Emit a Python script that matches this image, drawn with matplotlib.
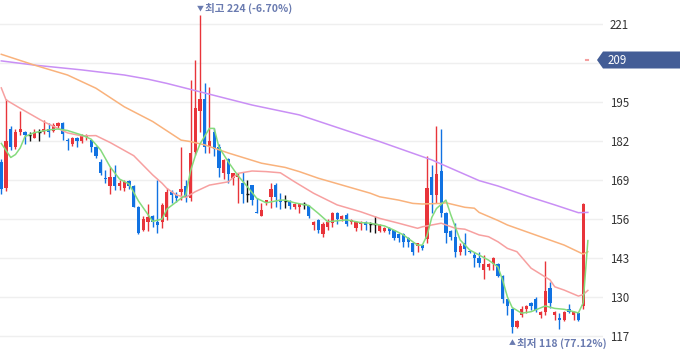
import matplotlib
matplotlib.use("Agg")
import matplotlib.pyplot as plt
from matplotlib.patches import Rectangle, Polygon

plt.rcParams['font.family'] = ['Noto Sans CJK KR', 'DejaVu Sans']

# daily candles, oldest first
opens = [
    175, 166.5, 186, 180, 185, 185, 184, 183, 185, 185,
    186, 185.5, 187, 188, 182.5, 181, 183, 182, 183.3, 182.3,
    180.1, 175.1, 169.6, 167, 170.1, 167, 166.2, 168.7, 167.1, 160.1,
    152.3, 155, 157, 155.1, 155.1, 156.8, 165, 164, 165.1, 167.1,
    163, 178.4, 192.1, 196, 180, 185, 180, 171.2, 176, 169.6,
    170.1, 168, 164.2, 167.3, 158.3, 157.1, 161.6, 163.2, 167.3, 162.3,
    162, 162, 159.9, 160.1, 160.9, 160.3, 154, 155.7, 151, 153.3,
    154.7, 158, 156, 157.5, 155.1, 152.9, 154.3, 155.1, 154.3, 154.3,
    152.1, 152.1, 152.9, 152.3, 151, 151, 149.6, 148.1, 147, 147.3,
    149.5, 170, 164, 172, 158, 152, 150, 145.1, 147.9, 145.3,
    144, 143.1, 139, 140.1, 141, 141, 137, 129.3, 125.9, 120.1,
    124, 125.9, 127.9, 129.2, 124, 125.1, 133.1, 124, 123.1, 122.3,
    125.9, 124, 124.6, 127,
]
highs = [
    176, 196, 187, 186, 192, 185.5, 185, 186, 186, 189,
    188, 188, 188.5, 188.5, 183, 183.5, 183.5, 184.5, 184.5, 182.5,
    180.5, 176, 172.3, 173.4, 174, 169, 169, 169, 167.5, 160.5,
    157, 161, 157.3, 169, 161.2, 166.2, 165.7, 165.1, 180.1, 169,
    202.3, 209, 224, 201.2, 200, 186.5, 181, 176, 176.5, 171.5,
    171.5, 171.8, 169, 167.5, 163, 161.2, 162.5, 168.1, 167.9, 164.6,
    164, 162.5, 161.2, 161.2, 161.8, 160.6, 155.5, 156, 155, 156,
    158.3, 158.3, 157.5, 158, 156, 155.5, 155.5, 155.3, 155.1, 157,
    154.3, 153.2, 153.2, 152.5, 151.3, 151.3, 150, 148.3, 148.1, 147.5,
    177, 174, 187, 186, 158.3, 152.5, 154.6, 147.9, 151.2, 145.7,
    145.1, 145.1, 144, 141.3, 143.2, 141.3, 137.3, 129.5, 126.3, 122.3,
    127, 127.3, 128.2, 130.1, 125.3, 142, 134.9, 125.3, 124.6, 125.2,
    127.7, 125.2, 124.7, 161.2,
]
lows = [
    164.5, 165.5, 179, 179.5, 184, 181, 182, 183, 182, 184.5,
    183.5, 185, 186.5, 182.5, 179, 180.5, 180, 181.5, 182.5, 178.4,
    176.3, 170.7, 167.9, 164.2, 165.7, 165.7, 165.5, 166, 160, 151,
    152, 152, 153.2, 151.2, 152.9, 155.7, 161.2, 161.8, 162.3, 161.8,
    162, 177.5, 185.1, 177.9, 178, 177, 170, 169.5, 168, 167.3,
    161.2, 161.2, 161.8, 160.7, 157.9, 157, 160.7, 159.6, 160.1, 159.2,
    159.6, 159.2, 159.2, 158.1, 159.2, 156.2, 152.3, 151.2, 150, 152.5,
    153.3, 154.3, 155.5, 153.7, 154.5, 152.1, 152.3, 152.3, 151.7, 151.2,
    151.8, 151.8, 151, 149, 148.4, 146.8, 146.8, 144, 145.1, 145.7,
    148, 158, 161.2, 156.8, 148.1, 149, 143.2, 144, 144, 144.7,
    140.1, 140.1, 135.9, 139, 139, 136.7, 127.9, 124, 118.1, 119.8,
    123.4, 124.8, 125.7, 125.1, 122.9, 124, 126.2, 122.3, 119.2, 122.1,
    124.6, 122.3, 122.1, 125.9,
]
closes = [
    166, 182, 180, 185, 186, 184, 184, 185, 185, 186,
    185, 187.5, 188, 184.5, 182, 183, 182, 184, 184, 180.1,
    177, 171.2, 169.2, 170.1, 167, 168.1, 168.2, 167.1, 160.1, 151.3,
    156.1, 156.7, 155.1, 154, 160.7, 165.1, 164.1, 162.9, 166, 163.4,
    177.9, 192.9, 196.1, 180.1, 182, 179.5, 173, 175.7, 171, 171.2,
    171.2, 164.2, 164.2, 162.3, 158, 159, 162.3, 165.9, 163.4, 161.8,
    162, 160.3, 160.9, 160.9, 160.9, 157.1, 155.1, 152.3, 154.3, 155.1,
    158.1, 156, 157, 154.5, 155.7, 155.1, 155.1, 154, 154.3, 154.3,
    154, 152.9, 152.1, 149.7, 149.8, 148.2, 148.2, 145.1, 147.9, 146.2,
    166.5, 164, 171, 158, 151.2, 150.1, 145.1, 147, 145.9, 145,
    142.9, 141.2, 141, 141, 142.9, 137, 129.2, 127, 120.1, 122,
    125.9, 127, 127, 125.7, 125, 132, 127.9, 125, 122.3, 125,
    125, 125, 122.4, 161,
]

# moving averages, sampled at candle indices
ma5_idx = [0, 2, 3, 4, 5, 7, 10, 12, 14, 17, 19, 21, 23, 25, 27, 29, 31, 32, 34,
           35, 38, 39, 40, 41, 42, 44, 45, 46, 48, 50, 52, 54, 56, 59, 60, 62, 65,
           67, 69, 71, 73, 76, 78, 81, 83, 85, 87, 88, 89, 90, 91, 92, 94, 95, 97,
           99, 103, 105, 106, 107, 108, 110, 112, 115, 117, 119, 122, 123, 124]
ma5_val = [181.2, 176.5, 177.5, 179.7, 183.5, 184.8, 185.7, 186, 185.5, 184, 182.6,
           179, 173.4, 169.3, 167.7, 162, 157.5, 155.2, 156, 159.3, 162.9, 164, 172,
           177, 181, 186.2, 186.2, 180, 175, 170.5, 166.8, 162.9, 161.4, 162.3, 162.3,
           161.4, 160.5, 157.9, 155.1, 155.4, 155.7, 154.8, 154.6, 153.7, 152.3, 150.7,
           148.4, 147.3, 147.3, 150.5, 156.5, 159.5, 162.3, 157.5, 149, 145.7, 142.3,
           140, 135.5, 130, 126.5, 124.6, 125.1, 127, 126.2, 125.9, 124.7, 128, 148.8]
ma20_idx = [0, 1, 4, 9, 14, 17, 20, 23, 28, 32, 34, 35, 37, 39, 41, 44, 48, 50, 53,
            56, 59, 62, 66, 71, 76, 80, 84, 88, 89, 93, 96, 98, 101, 103, 105, 107,
            109, 112, 116, 117, 119, 122, 123, 124]
ma20_val = [199.7, 195.7, 192.9, 188.4, 184.7, 183.7, 183.8, 181.5, 177.1, 170.7,
            167.9, 166.2, 164, 163.2, 165.1, 167.3, 168.4, 171.2, 172, 171.8, 171.4,
            168.4, 164.6, 160.7, 158.4, 156.2, 154.6, 152.9, 153.4, 154.6, 152.9,
            152.6, 150.7, 150.1, 148.4, 146.2, 145.1, 139.6, 135.7, 133.4, 132.3,
            130.3, 130.8, 132.2]
ma60_idx = [0, 7, 14, 20, 26, 32, 38, 40, 43, 48, 55, 60, 63, 67, 78, 80, 84, 87,
            89, 93, 94, 98, 100, 101, 105, 107, 112, 119, 123, 124]
ma60_val = [210.9, 207.3, 204, 199.6, 193.4, 188.5, 182.3, 181.8, 180.7, 178, 174.6,
            173.2, 171.8, 169.6, 164.6, 163.4, 162.3, 161.2, 161, 161.2, 161.4, 159.9,
            159.6, 158.2, 155.5, 154, 151.2, 147.3, 144.3, 145.1]
ma120_idx = [0, 7, 17, 26, 31, 35, 42, 48, 53, 63, 80, 91, 101, 105, 112, 117, 122, 124]
ma120_val = [208.7, 207.3, 205.7, 204, 202.6, 201.2, 198.4, 196, 194, 190.7, 181.8,
             175.7, 168.8, 167, 163.2, 160.7, 158.1, 158.2]

y_ticks = [117, 130, 143, 156, 169, 182, 195, 208, 221]
last_price = 209
high_idx, high_val, high_text = 42, 224, "최고 224 (-6.70%)"
low_idx, low_val, low_text = 108, 118, "최저 118 (77.12%)"

UP = "#e8343a"
DOWN = "#1172e2"
FLAT = "#111111"
NOTE = "#6a7bb0"
W, H = 680, 358

fig = plt.figure(figsize=(W / 100, H / 100), dpi=100)
ax = fig.add_axes([0, 0, 603 / W, 1])
ax.set_xlim(-0.275, 127.2)
ax.set_ylim(109.667, 229)

ax.set_yticks(y_ticks)
ax.set_yticklabels(["" if t == 208 else str(t) for t in y_ticks])
ax.yaxis.tick_right()
ax.tick_params(axis="y", length=0, pad=5, labelsize=8.3, labelcolor="#333333")
ax.tick_params(axis="x", bottom=False, labelbottom=False)
ax.grid(axis="y", color="#efefef", lw=1)
ax.set_axisbelow(True)
for s in ax.spines.values():
    s.set_visible(False)

body_w = 0.68
for i, (o, h, l, c) in enumerate(zip(opens, highs, lows, closes)):
    col = UP if c > o else DOWN if c < o else FLAT
    ax.vlines(i, l, h, color=col, lw=1.0, zorder=2)
    if c == o:
        ax.hlines(c, i - body_w / 2, i + body_w / 2, color=col, lw=1.0, zorder=2)
    else:
        bottom = min(o, c)
        ax.add_patch(Rectangle((i - body_w / 2, bottom), body_w, max(abs(c - o), 0.4),
                               facecolor=col, edgecolor="none", zorder=2))

ax.plot(ma120_idx, ma120_val, color="#c98ff5", lw=1.1, zorder=3)
ax.plot(ma60_idx, ma60_val, color="#f9b27c", lw=1.1, zorder=3)
ax.plot(ma20_idx, ma20_val, color="#f7a0a0", lw=1.1, zorder=3)
ax.plot(ma5_idx, ma5_val, color="#85db7d", lw=1.1, zorder=3)

# high / low notes
ax.annotate("▼", (high_idx, high_val), xytext=(0, 4.8), textcoords="offset points",
            ha="center", va="center", fontsize=5, color=NOTE)
ax.annotate(high_text, (high_idx, high_val), xytext=(3.3, 4.7), textcoords="offset points",
            ha="left", va="center", fontsize=7.6, color=NOTE, fontweight="bold")
ax.annotate("▲", (low_idx, low_val), xytext=(0, -7.4), textcoords="offset points",
            ha="center", va="center", fontsize=5, color=NOTE)
ax.annotate(low_text, (low_idx, low_val), xytext=(3.6, -7.5), textcoords="offset points",
            ha="left", va="center", fontsize=7.6, color=NOTE, fontweight="bold")

# current price marker
ax.plot([123.6, 124.1], [last_price, last_price], color="#f4a0a0", lw=1.5, zorder=3)
yc = ax.transData.transform((0, last_price))[1]
pts = [(597, yc), (603, yc + 8.5), (680, yc + 8.5), (680, yc - 8.5), (603, yc - 8.5)]
fig.add_artist(Polygon([(x / W, y / H) for x, y in pts], closed=True,
                       facecolor="#435d96", edgecolor="none", transform=fig.transFigure))
fig.text(608 / W, yc / H, str(last_price), color="white", fontsize=8.3,
         ha="left", va="center")

fig.savefig("out.png", dpi=100, facecolor="white")
